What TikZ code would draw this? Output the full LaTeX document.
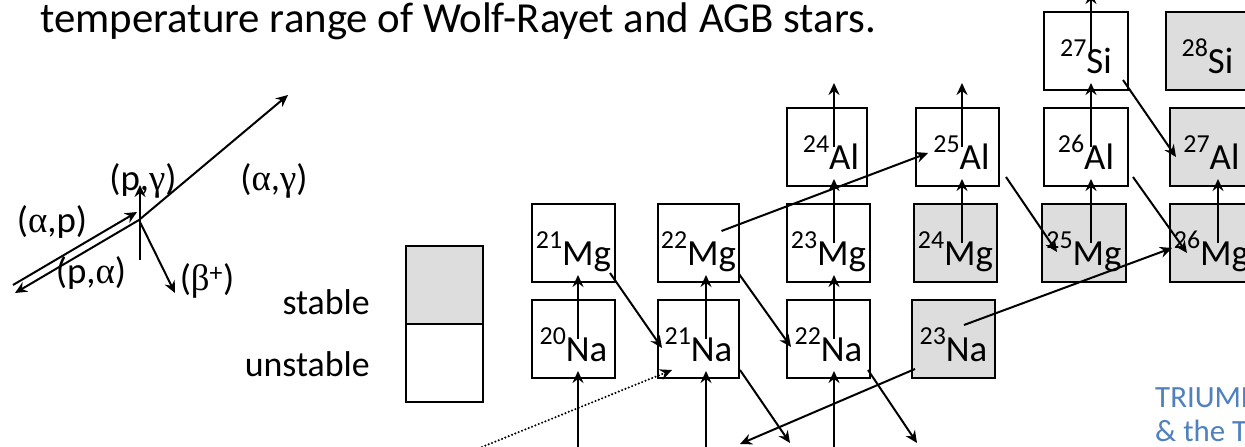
\documentclass[tikz,border=0pt]{standalone}
\usepackage{fontspec}
\setmainfont{Carlito}
\newfontfamily\grk{Liberation Serif}
\usetikzlibrary{arrows.meta}
\definecolor{stablegray}{HTML}{DDDDDD}
\definecolor{triblue}{HTML}{4F81BD}
\newcommand\iso[2]{\raisebox{17bp}{\fontsize{26}{26}\selectfont #1}#2}
\newcommand\gra{{\grk α}}
\newcommand\grg{{\grk γ}}
\newcommand\grb{{\grk β}}
\begin{document}
\begin{tikzpicture}[x=1bp,y=-1bp,
  nuc/.style={draw=black, line width=1.6bp, minimum width=83bp, minimum height=78bp,
    inner sep=0pt, outer sep=0pt, text height=46bp, text depth=0bp,
    font=\fontsize{37}{40}\selectfont, anchor=north west},
  stab/.style={nuc, fill=stablegray},
  thickbox/.style={line width=2.6bp},
  rx/.style={-{Stealth[length=12bp,width=11bp,inset=4bp]}, line width=2bp},
  vup/.style={rx, shorten >=-7bp},
  lbl/.style={font=\fontsize{37}{40}\selectfont, inner sep=0pt},
]
\clip (0,0) rectangle (1245,447);
\fill[white] (0,0) rectangle (1245,447);

% title
\node[anchor=base west, inner sep=0pt, font=\fontsize{43}{46}\selectfont] (title) at (40,33)
  {temperature range of Wolf-Rayet and AGB stars.};

% legend boxes
\node[draw=black, line width=1.6bp, fill=stablegray, minimum width=77bp, minimum height=78bp,
  anchor=north west, inner sep=0pt] (legS) at (405,245) {};
\node[draw=black, line width=1.6bp, fill=white, minimum width=77bp, minimum height=78bp,
  anchor=north west, inner sep=0pt] (legU) at (405,323) {};
\node[anchor=base east, inner sep=0pt, font=\fontsize{36}{40}\selectfont] (tS) at (370,315) {stable};
\node[anchor=base east, inner sep=0pt, font=\fontsize{36}{40}\selectfont] (tU) at (370,377) {unstable};

% nuclei
\node[nuc] (Na20) at (532,300) {\iso{20}{Na}};
\node[nuc, thickbox, minimum width=81bp] (Na21) at (658,300) {\iso{21}{Na}};
\node[nuc] (Na22) at (787,300) {\iso{22}{Na}};
\node[stab] (Na23) at (912,300) {\iso{23}{Na}};
\node[nuc] (Mg21) at (532,204) {\iso{21}{Mg}};
\node[nuc, thickbox, minimum width=81bp] (Mg22) at (658,204) {\iso{22}{Mg}};
\node[nuc] (Mg23) at (787,204) {\iso{23}{Mg}};
\node[stab] (Mg24) at (914,204) {\iso{24}{Mg}};
\node[stab, minimum width=84bp] (Mg25) at (1042,204) {\iso{25}{Mg}};
\node[stab] (Mg26) at (1170,204) {\iso{26}{Mg}};
\node[nuc, thickbox, minimum width=80bp] (Al24) at (787,108) {\hspace*{8bp}\iso{24}{Al}};
\node[nuc] (Al25) at (916,108) {\hspace*{8bp}\iso{25}{Al}};
\node[nuc, minimum width=84bp] (Al26) at (1044,108) {\iso{26}{Al}};
\node[stab] (Al27) at (1170,108) {\iso{27}{Al}};
\node[nuc, minimum width=84bp] (Si27) at (1044,12) {\iso{27}{Si}};
\node[stab] (Si28) at (1166,12) {\iso{28}{Si}};

% column reference coordinates and free ends
\coordinate (c1) at (578,0);
\coordinate (c2) at (706,0);
\coordinate (c3) at (834,0);
\coordinate (c4) at (962,0);
\coordinate (c5) at (1091,0);
\coordinate (c6) at (1218,0);
\coordinate (b1) at (578,452);
\coordinate (b2) at (706,452);
\coordinate (b3) at (834,452);
\coordinate (t3) at (834,83);
\coordinate (t4) at (962,83);
\coordinate (t5) at (1091,-8);
\coordinate (e1) at (790,443);
\coordinate (e2) at (917,443);
\coordinate (e3) at (740,444);
\coordinate (e4) at (482,447);

% vertical (p,gamma) arrows
\draw[vup] (b1) -- (Na20.south -| c1);
\draw[vup] (Na20.center -| c1) -- (Mg21.south -| c1);
\draw[vup] (b2) -- (Na21.south -| c2);
\draw[vup] (Na21.center -| c2) -- (Mg22.south -| c2);
\draw[vup] (b3) -- (Na22.south -| c3);
\draw[vup] (Na22.center -| c3) -- (Mg23.south -| c3);
\draw[vup] (Mg23.center -| c3) -- (Al24.south -| c3);
\draw[rx] (Al24.center -| c3) -- (t3);
\draw[vup] (Mg24.center -| c4) -- (Al25.south -| c4);
\draw[rx] (Al25.center -| c4) -- (t4);
\draw[vup] (Mg25.center -| c5) -- (Al26.south -| c5);
\draw[vup] (Al26.center -| c5) -- (Si27.south -| c5);
\draw[rx] (Si27.center -| c5) -- (t5);
\draw[vup] (Mg26.center -| c6) -- (Al27.south -| c6);

% beta+ decays
\draw[rx] ([shift={(-5,-9)}]Mg21.south east) -- ([shift={(4,9)}]Na21.west);
\draw[rx] ([shift={(0,-8)}]Mg22.south east) -- ([shift={(4,8)}]Na22.west);
\draw[rx] ([shift={(1,-8)}]Na21.south east) -- (e1);
\draw[rx] ([shift={(-2,-8)}]Na22.south east) -- (e2);
\draw[rx] ([shift={(7,-9)}]Al25.south east) -- ([shift={(15,9)}]Mg25.west);
\draw[rx] ([shift={(5,-9)}]Al26.south east) -- ([shift={(17,10)}]Mg26.west);
\draw[rx] ([shift={(-5,-10)}]Si27.south east) -- ([shift={(6,10)}]Al27.west);

% alpha reactions
\draw[rx] ([shift={(23,-12)}]Mg22.center) -- ([shift={(12,6)}]Al25.west);
\draw[rx] ([shift={(10.5,-14)}]Na23.center) -- ([shift={(2,5)}]Mg26.west);
\draw[rx] ([shift={(3,-9)}]Na23.south west) -- (e3);
\draw[line width=2.3bp, line cap=round, dash pattern=on 0bp off 3.6bp,
  -{Stealth[length=12bp,width=11bp,inset=4bp]}] (e4) -- ([shift={(14,-8)}]Na21.south west);

% key of reactions
\coordinate (C) at (139,220);
\coordinate (kag) at (288,95);
\coordinate (kpa) at (15,293);
\coordinate (kap0) at (13,285);
\coordinate (kap) at (137,212);
\coordinate (kpg0) at (140,260);
\coordinate (kpg) at (140,185);
\coordinate (kb) at (175,293);
\draw[rx] (C) -- (kag);
\draw[rx] (C) -- (kpa);
\draw[rx] (kap0) -- (kap);
\draw[rx] (kpg0) -- (kpg);
\draw[rx] (C) -- (kb);
\node[lbl] (lpg) at (143,181) {(p,\grg)};
\node[lbl] (lag) at (274,181) {(\gra,\grg)};
\node[lbl] (lap) at (52,222) {(\gra,p)};
\node[lbl] (lpa) at (91,273) {(p,\gra)};
\node[lbl] (lb) at (207,281) {(\grb\textsuperscript{+})};

% credit
\node[anchor=base west, inner sep=0pt, text=triblue, font=\fontsize{31}{33}\selectfont] (cred) at (1155,408) {TRIUMF};
\node[anchor=base west, inner sep=0pt, text=triblue, font=\fontsize{31}{33}\selectfont]
  (cred2) at (1155,442) {\& the T};
\end{tikzpicture}
\end{document}
